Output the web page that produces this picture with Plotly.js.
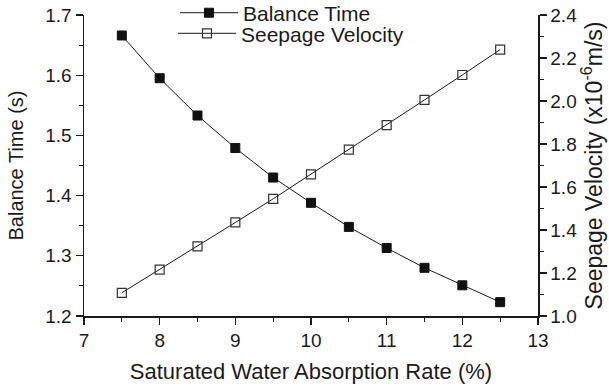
<!DOCTYPE html>
<html>
<head>
<meta charset="utf-8">
<script src="https://cdn.plot.ly/plotly-3.0.1.min.js"></script>
<style>html,body{margin:0;padding:0;background:#fff;}#chart{width:609px;height:386px;}</style>
</head>
<body>
<div id="chart"></div>
<script>
const absorptionRate = [7.5, 8, 8.5, 9, 9.5, 10, 10.5, 11, 11.5, 12, 12.5];
const balanceTime = [1.666, 1.595, 1.533, 1.479, 1.430, 1.388, 1.348, 1.313, 1.280, 1.251, 1.223];
const seepageVelocity = [1.108, 1.216, 1.324, 1.435, 1.545, 1.659, 1.774, 1.888, 2.005, 2.121, 2.239];
const xTicks = [7, 8, 9, 10, 11, 12, 13];
const yLeftTicks = [1.2, 1.3, 1.4, 1.5, 1.6, 1.7];
const yRightTicks = [1.0, 1.2, 1.4, 1.6, 1.8, 2.0, 2.2, 2.4];

const FONT = 'Liberation Sans, Arial, Helvetica, sans-serif';
const INK = '#1a1a1a';

const traces = [
  {
    x: absorptionRate, y: balanceTime, name: 'Balance Time',
    type: 'scatter', mode: 'lines+markers', yaxis: 'y', legend: 'legend',
    line: {color: INK, width: 1},
    marker: {symbol: 'square', size: 9, color: '#111', line: {color: '#111', width: 1}}
  },
  {
    x: absorptionRate, y: seepageVelocity, name: 'Seepage Velocity',
    type: 'scatter', mode: 'lines+markers', yaxis: 'y2', legend: 'legend2',
    line: {color: INK, width: 1},
    marker: {symbol: 'square-open', size: 9, color: '#333', line: {color: '#333', width: 1.2}}
  }
];

const axisCommon = {
  showgrid: false, zeroline: false, showline: true, linecolor: INK, linewidth: 1.5,
  ticks: 'outside', ticklen: 7, tickwidth: 1.2, tickcolor: INK,
  tickfont: {family: FONT, size: 19, color: INK},
  minor: {ticks: 'outside', ticklen: 4, tickwidth: 1.2, tickcolor: INK}
};

const legendCommon = {
  xanchor: 'left', yanchor: 'middle', valign: 'middle',
  bgcolor: 'rgba(0,0,0,0)', borderwidth: 0,
  font: {family: FONT, size: 21, color: INK},
  itemwidth: 58
};

const layout = {
  width: 609, height: 386,
  margin: {l: 84, r: 71, t: 15, b: 70, autoexpand: false},
  paper_bgcolor: '#fff', plot_bgcolor: '#fff',
  font: {family: FONT, color: INK},
  showlegend: true,
  legend: Object.assign({}, legendCommon, {x: 0.2004, y: 1.0064}),
  legend2: Object.assign({}, legendCommon, {x: 0.196, y: 0.938}),
  xaxis: Object.assign({}, axisCommon, {
    range: [7, 13], tickvals: xTicks, ticktext: xTicks.map(String),
    minor: Object.assign({}, axisCommon.minor, {dtick: 0.5, tick0: 7}),
    title: {text: 'Saturated Water Absorption Rate (%)', font: {family: FONT, size: 22, color: INK}, standoff: 13}
  }),
  yaxis: Object.assign({}, axisCommon, {
    range: [1.2, 1.7], tickvals: yLeftTicks, ticktext: yLeftTicks.map(v => v.toFixed(1)),
    minor: Object.assign({}, axisCommon.minor, {dtick: 0.05, tick0: 1.2}),
    title: {text: 'Balance Time (s)', font: {family: FONT, size: 20, color: INK}, standoff: 16}
  }),
  yaxis2: Object.assign({}, axisCommon, {
    overlaying: 'y', side: 'right',
    range: [1.0, 2.4], tickvals: yRightTicks, ticktext: yRightTicks.map(v => v.toFixed(1)),
    minor: Object.assign({}, axisCommon.minor, {dtick: 0.1, tick0: 1.0}),
    title: {text: 'Seepage Velocity (x10<sup>-6</sup>m/s)', font: {family: FONT, size: 23, color: INK}, standoff: 9}
  })
};

Plotly.newPlot('chart', traces, layout, {displayModeBar: false, staticPlot: true});
</script>
</body>
</html>
